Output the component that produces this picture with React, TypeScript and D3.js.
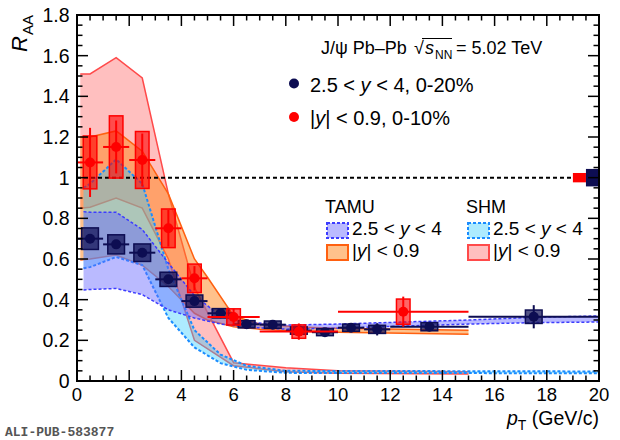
import * as d3 from "d3";

const W = 620;
const H = 440;
const FONT = "'Liberation Sans', Arial, Helvetica, sans-serif";

// ALICE data, 2.5 < y < 4, 0-20%
const fwdPt = [0.5, 1.5, 2.5, 3.5, 4.5, 5.5, 6.5, 7.5, 8.5, 9.5, 10.5, 11.5, 13.5, 17.5];
const fwdHalfBin = [0.5, 0.5, 0.5, 0.5, 0.5, 0.5, 0.5, 0.5, 0.5, 0.5, 0.5, 0.5, 1.5, 2.5];
const fwdRaa = [0.7, 0.672, 0.631, 0.5, 0.393, 0.333, 0.279, 0.277, 0.248, 0.24, 0.262, 0.254, 0.267, 0.316];
const fwdStat = [0.02, 0.02, 0.02, 0.015, 0.012, 0.01, 0.01, 0.01, 0.012, 0.012, 0.015, 0.03, 0.02, 0.057];
const fwdSyst = [0.053, 0.047, 0.043, 0.035, 0.03, 0.023, 0.018, 0.018, 0.018, 0.017, 0.018, 0.02, 0.02, 0.033];

// ALICE data, |y| < 0.9, 0-10%
const midPt = [0.5, 1.5, 2.5, 3.5, 4.5, 6, 8.5, 12.5];
const midHalfBin = [0.5, 0.5, 0.5, 0.5, 0.5, 1, 1.5, 2.5];
const midRaa = [1.075, 1.151, 1.087, 0.751, 0.505, 0.315, 0.243, 0.341];
const midStat = [0.17, 0.13, 0.13, 0.09, 0.06, 0.04, 0.04, 0.074];
const midSyst = [0.13, 0.153, 0.14, 0.095, 0.07, 0.04, 0.033, 0.062];

// global uncertainties at RAA = 1
const globalFwd = { from: 19.5, to: 20, err: 0.043 };
const globalMid = { from: 19, to: 19.5, err: 0.023 };

// model bands
const tamuFwdPt = [0.25, 0.5, 1.5, 2.5, 3.5, 4.5, 5.5, 6.5, 8, 10, 12.5, 15, 17.5, 20];
const tamuFwdHi = [0.833, 0.83, 0.83, 0.745, 0.58, 0.42, 0.32, 0.29, 0.275, 0.28, 0.29, 0.3, 0.313, 0.32];
const tamuFwdLo = [0.448, 0.45, 0.455, 0.425, 0.35, 0.31, 0.28, 0.265, 0.255, 0.26, 0.27, 0.28, 0.287, 0.29];

const tamuMidPt = [0.125, 0.5, 1.5, 2.5, 3.5, 4.5, 5, 6, 7, 8.5, 10, 15];
const tamuMidHi = [1.2, 1.2, 1.23, 1.13, 0.92, 0.6, 0.51, 0.32, 0.28, 0.265, 0.26, 0.25];
const tamuMidLo = [0.595, 0.6, 0.62, 0.57, 0.465, 0.333, 0.3, 0.267, 0.255, 0.245, 0.24, 0.23];

const shmFwdPt = [0.25, 0.5, 1.5, 2.5, 3.5, 4.5, 5.5, 6.5, 8, 20];
const shmFwdHi = [0.95, 0.97, 1.09, 0.97, 0.55, 0.25, 0.13, 0.075, 0.05, 0.047];
const shmFwdLo = [0.555, 0.56, 0.61, 0.57, 0.31, 0.165, 0.088, 0.055, 0.04, 0.038];

const shmMidPt = [0.125, 0.5, 1.5, 2.5, 3.5, 4.5, 6, 8, 10, 15];
const shmMidHi = [1.51, 1.51, 1.59, 1.49, 0.92, 0.46, 0.09, 0.065, 0.05, 0.045];
const shmMidLo = [0.85, 0.855, 0.9, 0.85, 0.6, 0.2, 0.075, 0.045, 0.038, 0.035];

const NAVY = "#0d0d52";
const RED = "#ff0000";

const x = d3.scaleLinear().domain([0, 20]).range([77, 599]);
const y = d3.scaleLinear().domain([0, 1.8]).range([381, 15]);

type Band = { pt: number[]; hi: number[]; lo: number[]; fill: string; opacity: number; stroke: string; dash?: string; sw: number };

const bands: Band[] = [
  { pt: shmMidPt, hi: shmMidHi, lo: shmMidLo, fill: "#ff8080", opacity: 0.5, stroke: "#ff4a4a", sw: 1.5 },
  { pt: tamuMidPt, hi: tamuMidHi, lo: tamuMidLo, fill: "#ff8418", opacity: 0.5, stroke: "#ff6010", sw: 1.5 },
  { pt: shmFwdPt, hi: shmFwdHi, lo: shmFwdLo, fill: "#33ccff", opacity: 0.4, stroke: "#1a8cff", dash: "3 2", sw: 2 },
  { pt: tamuFwdPt, hi: tamuFwdHi, lo: tamuFwdLo, fill: "#6666ff", opacity: 0.45, stroke: "#3c3cff", dash: "3 2", sw: 1.5 },
];

function BandShape({ b }: { b: Band }) {
  const idx = b.pt.map((_, i) => i);
  const area = d3
    .area<number>()
    .x((i) => x(b.pt[i]))
    .y0((i) => y(b.lo[i]))
    .y1((i) => y(b.hi[i]));
  const hiLine = d3.line<number>().x((i) => x(b.pt[i])).y((i) => y(b.hi[i]));
  const loLine = d3.line<number>().x((i) => x(b.pt[i])).y((i) => y(b.lo[i]));
  return (
    <g>
      <path d={area(idx) || ""} fill={b.fill} fillOpacity={b.opacity} stroke="none" />
      <path d={hiLine(idx) || ""} fill="none" stroke={b.stroke} strokeWidth={b.sw} strokeDasharray={b.dash} />
      <path d={loLine(idx) || ""} fill="none" stroke={b.stroke} strokeWidth={b.sw} strokeDasharray={b.dash} />
    </g>
  );
}

function Points(props: {
  pt: number[]; half: number[]; raa: number[]; stat: number[]; syst: number[];
  color: string; boxHalf: number; boxOpacity: number; r: number;
}) {
  const { pt, half, raa, stat, syst, color, boxHalf, boxOpacity, r } = props;
  return (
    <g>
      {pt.map((p, i) => (
        <g key={i}>
          <rect
            x={x(p - boxHalf)}
            y={y(raa[i] + syst[i])}
            width={x(p + boxHalf) - x(p - boxHalf)}
            height={y(raa[i] - syst[i]) - y(raa[i] + syst[i])}
            fill={color}
            fillOpacity={boxOpacity}
            stroke={color}
            strokeWidth={1.5}
          />
          <line x1={x(p - half[i])} x2={x(p + half[i])} y1={y(raa[i])} y2={y(raa[i])} stroke={color} strokeWidth={2} />
          <line x1={x(p)} x2={x(p)} y1={y(raa[i] + stat[i])} y2={y(raa[i] - stat[i])} stroke={color} strokeWidth={2} />
          <circle cx={x(p)} cy={y(raa[i])} r={r} fill={color} />
        </g>
      ))}
    </g>
  );
}

export default function App() {
  const xMajor = x.ticks(10);
  const xMinor = d3.range(0, 20.001, 0.5);
  const yMajor = y.ticks(9);
  const yMinor = d3.range(0, 1.8001, 0.05);
  const [x0, x1] = x.range();
  const [yb, yt] = y.range();

  const swatch = (sx: number, sy: number, b: Band) => (
    <rect x={sx} y={sy} width={21} height={15} fill={b.fill} fillOpacity={b.opacity} stroke={b.stroke} strokeWidth={2} strokeDasharray={b.dash} />
  );

  return (
    <svg width={W} height={H} style={{ position: "absolute", left: 0, top: 0, background: "#fff" }} fontFamily={FONT}>
      <rect width={W} height={H} fill="#fff" />

      {/* model bands */}
      {bands.map((b, i) => (
        <BandShape key={i} b={b} />
      ))}

      {/* RAA = 1 */}
      <line x1={x0} x2={x1} y1={y(1)} y2={y(1)} stroke="#000" strokeWidth={2} strokeDasharray="4 3" />

      {/* global uncertainties */}
      <rect x={x(globalMid.from)} width={x(globalMid.to) - x(globalMid.from)} y={y(1 + globalMid.err)} height={y(1 - globalMid.err) - y(1 + globalMid.err)} fill={RED} />
      <rect x={x(globalFwd.from)} width={x(globalFwd.to) - x(globalFwd.from)} y={y(1 + globalFwd.err)} height={y(1 - globalFwd.err) - y(1 + globalFwd.err)} fill={NAVY} />

      <Points pt={fwdPt} half={fwdHalfBin} raa={fwdRaa} stat={fwdStat} syst={fwdSyst} color={NAVY} boxHalf={0.32} boxOpacity={0.7} r={5} />
      <Points pt={midPt} half={midHalfBin} raa={midRaa} stat={midStat} syst={midSyst} color={RED} boxHalf={0.26} boxOpacity={0.6} r={5} />

      {/* frame and ticks */}
      <rect x={x0} y={yt} width={x1 - x0} height={yb - yt} fill="none" stroke="#000" strokeWidth={2} />
      {xMinor.map((t) => {
        const len = xMajor.includes(t) ? 11 : 5.5;
        return (
          <g key={"xt" + t}>
            <line x1={x(t)} x2={x(t)} y1={yb} y2={yb - len} stroke="#000" strokeWidth={1.5} />
            <line x1={x(t)} x2={x(t)} y1={yt} y2={yt + len} stroke="#000" strokeWidth={1.5} />
          </g>
        );
      })}
      {yMinor.map((t, i) => {
        const len = i % 4 === 0 ? 11 : 5.5;
        return (
          <g key={"yt" + i}>
            <line x1={x0} x2={x0 + len} y1={y(t)} y2={y(t)} stroke="#000" strokeWidth={1.5} />
            <line x1={x1} x2={x1 - len} y1={y(t)} y2={y(t)} stroke="#000" strokeWidth={1.5} />
          </g>
        );
      })}
      {xMajor.map((t) => (
        <text key={"xl" + t} x={x(t)} y={401} textAnchor="middle" fontSize={18.5}>
          {t}
        </text>
      ))}
      {yMajor.map((t) => (
        <text key={"yl" + t} x={69.5} y={y(t) + 7} textAnchor="end" fontSize={19.5}>
          {+t.toFixed(1)}
        </text>
      ))}

      {/* axis titles */}
      <text transform="translate(27,52) rotate(-90)" fontSize={22}>
        <tspan fontStyle="italic">R</tspan>
        <tspan fontSize={15} dy={6} dx={1}>AA</tspan>
      </text>
      <text x={599} y={425} textAnchor="end" fontSize={19.5}>
        <tspan fontStyle="italic">p</tspan>
        <tspan fontSize={14} dy={5}>T</tspan>
        <tspan dy={-5}> (GeV/c)</tspan>
      </text>

      {/* header */}
      <text x={321} y={54} fontSize={18}>J/ψ Pb–Pb</text>
      <text x={414} y={54} fontSize={18}>√</text>
      <line x1={422} x2={452} y1={38.5} y2={38.5} stroke="#000" strokeWidth={1} />
      <text x={425} y={54} fontSize={18} fontStyle="italic">s</text>
      <text x={435} y={59} fontSize={12}>NN</text>
      <text x={456} y={54} fontSize={18}>= 5.02 TeV</text>

      {/* data legend */}
      <circle cx={294} cy={83.5} r={5} fill={NAVY} />
      <text x={310} y={91.5} fontSize={20}>
        2.5 &lt; <tspan fontStyle="italic">y</tspan> &lt; 4, 0-20%
      </text>
      <circle cx={294} cy={117} r={5} fill={RED} />
      <text x={310} y={124.5} fontSize={20}>
        |<tspan fontStyle="italic">y</tspan>| &lt; 0.9, 0-10%
      </text>

      {/* model legend */}
      <text x={325} y={213} fontSize={18}>TAMU</text>
      <text x={466} y={213} fontSize={18}>SHM</text>
      {swatch(327, 223, bands[3])}
      <text x={352} y={235} fontSize={19}>
        2.5 &lt; <tspan fontStyle="italic">y</tspan> &lt; 4
      </text>
      {swatch(327, 245, bands[1])}
      <text x={352} y={257} fontSize={19}>
        |<tspan fontStyle="italic">y</tspan>| &lt; 0.9
      </text>
      {swatch(468, 223, bands[2])}
      <text x={493} y={235} fontSize={19}>
        2.5 &lt; <tspan fontStyle="italic">y</tspan> &lt; 4
      </text>
      {swatch(468, 245, bands[0])}
      <text x={493} y={257} fontSize={19}>
        |<tspan fontStyle="italic">y</tspan>| &lt; 0.9
      </text>

      <text x={5} y={436} fontSize={13} fontWeight="bold" fontFamily="'Liberation Mono', 'DejaVu Sans Mono', monospace" fill="#555">
        ALI-PUB-583877
      </text>
    </svg>
  );
}
